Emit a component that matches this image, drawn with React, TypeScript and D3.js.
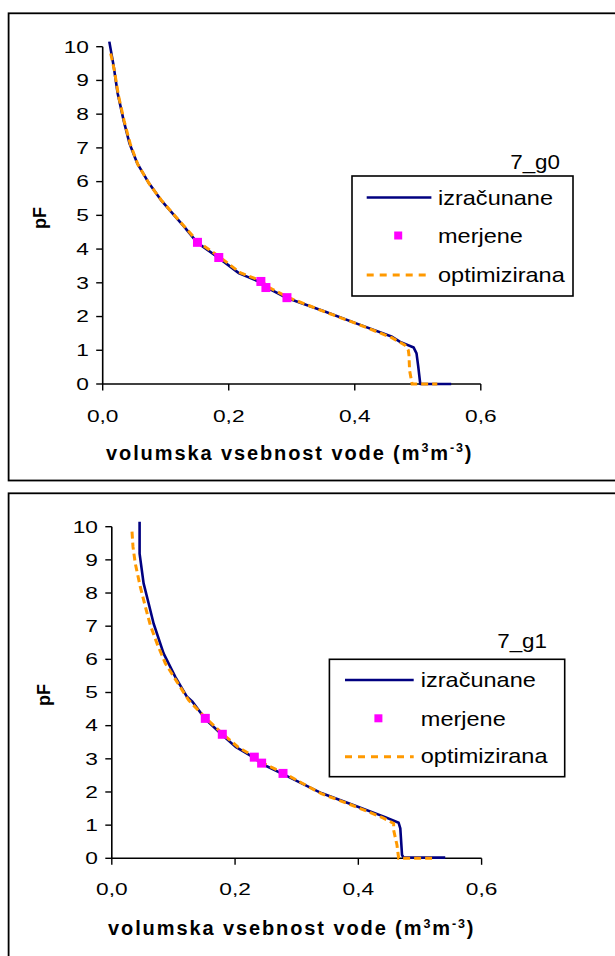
import React from "react";
import * as d3 from "d3";

// ---------- data ----------
const yTicks = [0, 1, 2, 3, 4, 5, 6, 7, 8, 9, 10];
const xTicks = [0, 0.2, 0.4, 0.6];
const xTickLabels = ["0,0", "0,2", "0,4", "0,6"];
const legendLabels = ["izračunane", "merjene", "optimizirana"];
const panelNames = ["7_g0", "7_g1"];

// 7_g0
const calcTop: [number, number][] = [
  [0.0105, 10.15], [0.0175, 9.41], [0.0237, 8.62], [0.033, 7.83], [0.0424, 7.14],
  [0.0549, 6.54], [0.0735, 5.95], [0.0922, 5.46], [0.1108, 5.06], [0.1295, 4.66],
  [0.15, 4.19], [0.184, 3.74], [0.2166, 3.28], [0.251, 3.01], [0.259, 2.87],
  [0.2924, 2.55], [0.3535, 2.14], [0.4033, 1.79], [0.4593, 1.4], [0.472, 1.25],
  [0.4935, 1.08], [0.498, 0.91], [0.5008, 0.51], [0.5035, 0.07], [0.504, 0], [0.553, 0],
];
const measTop: [number, number][] = [
  [0.1504, 4.2], [0.1842, 3.75], [0.251, 3.04], [0.259, 2.86], [0.2924, 2.56],
];
const optTop: [number, number][] = [
  [0.0127, 9.8], [0.0185, 9.3], [0.025, 8.55], [0.034, 7.8], [0.044, 7.1],
  [0.056, 6.5], [0.074, 5.93], [0.093, 5.45], [0.112, 5.04], [0.131, 4.64],
  [0.151, 4.22], [0.186, 3.76], [0.218, 3.3], [0.252, 3.05], [0.262, 2.88],
  [0.294, 2.57], [0.354, 2.13], [0.404, 1.78], [0.458, 1.38], [0.4797, 1.15],
  [0.485, 1.0], [0.486, 0.86], [0.487, 0.4], [0.491, 0], [0.531, 0],
];

// 7_g1
const calcBot: [number, number][] = [
  [0.0451, 10.15], [0.0451, 9.19], [0.0516, 8.29], [0.0597, 7.69], [0.0678, 7.08],
  [0.084, 6.18], [0.103, 5.47], [0.122, 4.87], [0.1309, 4.72], [0.1517, 4.2],
  [0.1793, 3.72], [0.2009, 3.36], [0.2312, 3.03], [0.2431, 2.85], [0.2778, 2.54],
  [0.3409, 1.96], [0.3917, 1.61], [0.4426, 1.25], [0.4654, 1.07], [0.4681, 0.9],
  [0.4709, 0.1], [0.4735, 0.02], [0.541, 0.02],
];
const measBot: [number, number][] = [
  [0.1517, 4.22], [0.1793, 3.74], [0.2312, 3.05], [0.2431, 2.87], [0.2778, 2.56],
];
const optBot: [number, number][] = [
  [0.0328, 9.85], [0.0344, 9.39], [0.0381, 8.89], [0.0462, 8.19], [0.0544, 7.59],
  [0.0625, 7.03], [0.0733, 6.48], [0.0868, 5.88], [0.1058, 5.32], [0.1246, 4.77],
  [0.1517, 4.24], [0.1793, 3.76], [0.205, 3.35], [0.2312, 3.07], [0.2431, 2.89],
  [0.2778, 2.58], [0.34, 1.95], [0.39, 1.6], [0.44, 1.22], [0.4573, 1.05],
  [0.4573, 0.85], [0.4627, 0.4], [0.4654, 0], [0.5196, 0],
];

// ---------- styles ----------
const NAVY = "#000080";
const ORANGE = "#FF9900";
const MAGENTA = "#FF00FF";
const FONT = "Arial, 'Liberation Sans', sans-serif";
const TICK_SX = 1.42;
const LEG_SX = 1.12;

type Layout = {
  x0: number; x1: number; y0: number; y10: number;
  tickLabelEnd: number; xLabelBase: number;
  pfX: number; pfY: number;
  titleX: number; titleBase: number;
  leg: { x: number; y: number; w: number; h: number; lineX0: number; lineX1: number; textX: number; rows: number[]; bases: number[]; sqX: number };
  nameRight: number; nameBase: number;
};

const layouts: Layout[] = [
  {
    x0: 102.7, x1: 480.8, y0: 384, y10: 46.7,
    tickLabelEnd: 89, xLabelBase: 421.5,
    pfX: 46, pfY: 218,
    titleX: 106, titleBase: 459.5,
    leg: { x: 352, y: 176, w: 221, h: 120, lineX0: 366.7, lineX1: 431.4, textX: 438, rows: [197.5, 235.5, 275], bases: [204.5, 242.5, 281.7], sqX: 398.2 },
    nameRight: 560, nameBase: 169,
  },
  {
    x0: 111.8, x1: 481.6, y0: 858.3, y10: 526.7,
    tickLabelEnd: 98, xLabelBase: 895,
    pfX: 50, pfY: 695,
    titleX: 108, titleBase: 935,
    leg: { x: 329.4, y: 659.3, w: 235.3, h: 117.4, lineX0: 345, lineX1: 413.7, textX: 420.8, rows: [680, 718.3, 756.7], bases: [687.3, 725.7, 763.3], sqX: 378.4 },
    nameRight: 547, nameBase: 648.3,
  },
];

function Panel({ L, calc, meas, opt, name }: { L: Layout; calc: [number, number][]; meas: [number, number][]; opt: [number, number][]; name: string }) {
  const x = d3.scaleLinear().domain([0, 0.6]).range([L.x0, L.x1]);
  const y = d3.scaleLinear().domain([0, 10]).range([L.y0, L.y10]);
  const line = d3.line<[number, number]>().x((d) => x(d[0])).y((d) => y(d[1]));
  const lg = L.leg;
  return (
    <g fontFamily={FONT}>
      {/* axes */}
      <line x1={L.x0} x2={L.x0} y1={y(10)} y2={y(0)} stroke="#000" strokeWidth={1.6} />
      <line x1={L.x0} x2={L.x1} y1={y(0)} y2={y(0)} stroke="#000" strokeWidth={1.6} />
      {yTicks.map((t) => (
        <g key={"y" + t}>
          <line x1={L.x0 - 6.5} x2={L.x0} y1={y(t)} y2={y(t)} stroke="#000" strokeWidth={1.4} />
          <text transform={`translate(${L.tickLabelEnd},${y(t) + 5.8}) scale(${TICK_SX},1)`} textAnchor="end" fontSize={16} fill="#000">{t}</text>
        </g>
      ))}
      {xTicks.map((t, i) => (
        <g key={"x" + t}>
          <line x1={x(t)} x2={x(t)} y1={y(0)} y2={y(0) + 6.5} stroke="#000" strokeWidth={1.4} />
          <text transform={`translate(${x(t)},${L.xLabelBase}) scale(${TICK_SX},1)`} textAnchor="middle" fontSize={16} fill="#000">{xTickLabels[i]}</text>
        </g>
      ))}
      {/* axis titles */}
      <text transform={`translate(${L.pfX},${L.pfY}) rotate(-90)`} textAnchor="middle" fontSize={18} fontWeight="bold">pF</text>
      <text x={L.titleX} y={L.titleBase} fontSize={20} fontWeight="bold" letterSpacing={1.9}>
        volumska vsebnost vode (m<tspan fontSize={12.5} dy={-7.5}>3</tspan><tspan dy={7.5}>m</tspan><tspan fontSize={12.5} dy={-7.5}>-3</tspan><tspan dy={7.5}>)</tspan>
      </text>
      {/* series */}
      <path d={line(calc) || ""} fill="none" stroke={NAVY} strokeWidth={2.6} strokeLinejoin="round" />
      <path d={line(opt) || ""} fill="none" stroke={ORANGE} strokeWidth={3} strokeDasharray="7,4" />
      {meas.map((d, i) => (
        <rect key={i} x={x(d[0]) - 4.5} y={y(d[1]) - 4.5} width={9} height={9} fill={MAGENTA} />
      ))}
      {/* panel name */}
      <text transform={`translate(${L.nameRight},${L.nameBase}) scale(${LEG_SX},1)`} textAnchor="end" fontSize={20}>{name}</text>
      {/* legend */}
      <rect x={lg.x} y={lg.y} width={lg.w} height={lg.h} fill="#fff" stroke="#000" strokeWidth={1.6} />
      <line x1={lg.lineX0} x2={lg.lineX1} y1={lg.rows[0]} y2={lg.rows[0]} stroke={NAVY} strokeWidth={2.6} />
      <rect x={lg.sqX - 4} y={lg.rows[1] - 4} width={8} height={8} fill={MAGENTA} />
      <line x1={lg.lineX0} x2={lg.lineX1} y1={lg.rows[2]} y2={lg.rows[2]} stroke={ORANGE} strokeWidth={3} strokeDasharray="7,6" />
      {legendLabels.map((s, i) => (
        <text key={s} transform={`translate(${lg.textX},${lg.bases[i]}) scale(${LEG_SX},1)`} fontSize={21} fill="#000">{s}</text>
      ))}
    </g>
  );
}

export default function App() {
  return (
    <svg width={615} height={956} style={{ position: "absolute", left: 0, top: 0, background: "#fff" }}>
      <rect x={0} y={0} width={615} height={956} fill="#fff" />
      {/* frames */}
      <rect x={8.6} y={13.3} width={640} height={467.2} fill="none" stroke="#000" strokeWidth={1.8} />
      <rect x={8.6} y={493.3} width={640} height={500} fill="none" stroke="#000" strokeWidth={1.8} />
      <Panel L={layouts[0]} calc={calcTop} meas={measTop} opt={optTop} name={panelNames[0]} />
      <Panel L={layouts[1]} calc={calcBot} meas={measBot} opt={optBot} name={panelNames[1]} />
    </svg>
  );
}
